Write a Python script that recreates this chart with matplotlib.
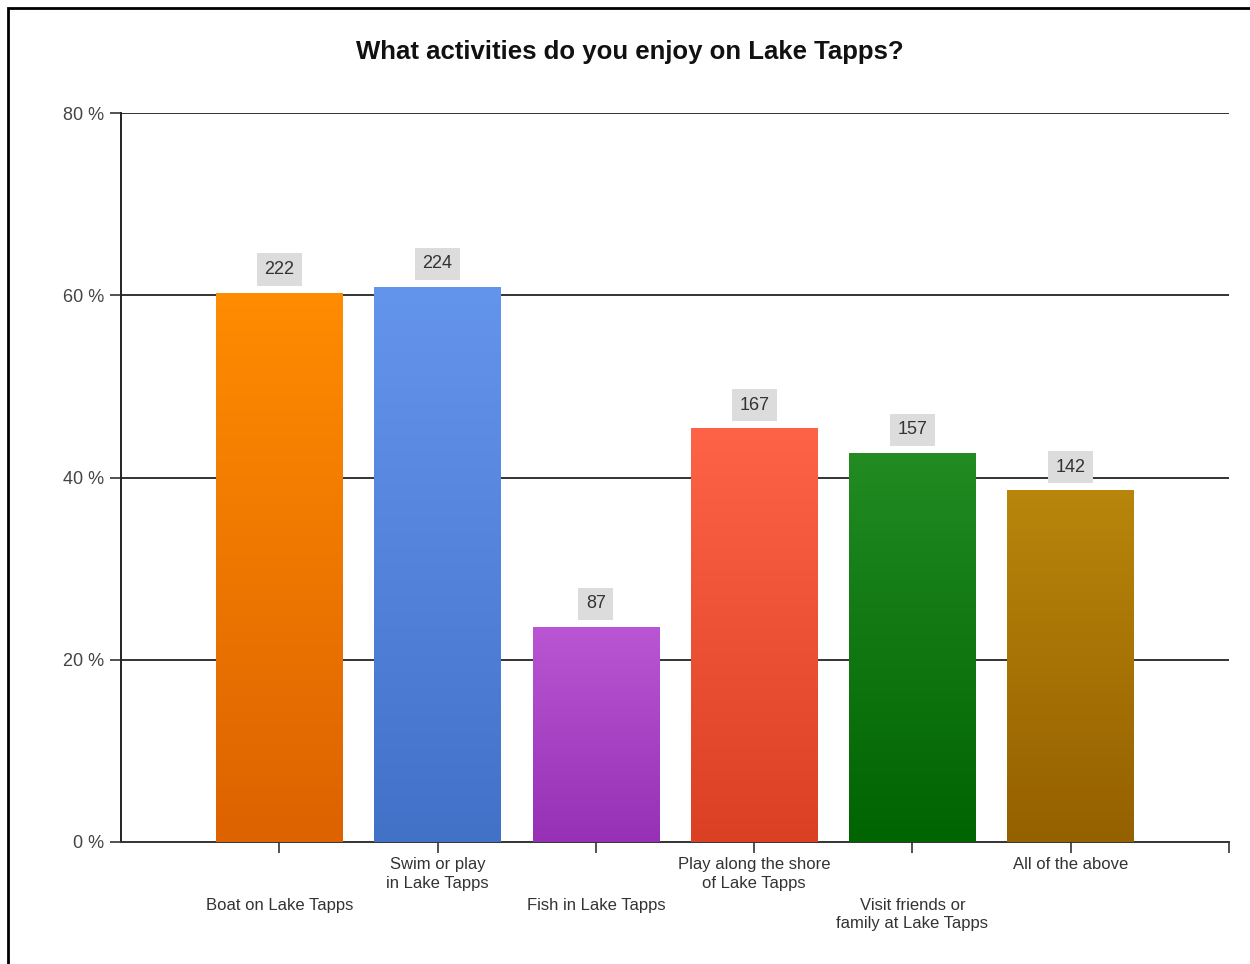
import numpy as np
import matplotlib.pyplot as plt
from matplotlib.patches import Rectangle
from matplotlib.colors import LinearSegmentedColormap

# survey answers, counts shown on bars, share of respondents (%)
categories = ['Boat on Lake Tapps', 'Swim or play\nin Lake Tapps', 'Fish in Lake Tapps',
              'Play along the shore\nof Lake Tapps', 'Visit friends or\nfamily at Lake Tapps',
              'All of the above']
counts = [222, 224, 87, 167, 157, 142]
percent = [60.3, 60.9, 23.6, 45.4, 42.7, 38.6]
# row 0 = just below ticks, row 1 = staggered lower
label_row = [1, 0, 1, 0, 1, 0]
top_colors = ['#FF8C00', '#6495ED', '#BA55D3', '#FF6347', '#228B22', '#B8860B']
bottom_colors = ['#DD6200', '#4271C8', '#9631B6', '#DB3F24', '#006400', '#956000']
yticks = [0, 20, 40, 60, 80]

plt.rcParams['font.family'] = ['Liberation Sans', 'DejaVu Sans']

fig = plt.figure(figsize=(12.5, 9.64), dpi=100)
ax = fig.add_axes([121/1250, 1 - 842/964, (1229 - 121)/1250, (842 - 113)/964])

x = np.arange(1, len(categories) + 1)
bars = ax.bar(x, percent, width=0.8, color='none', edgecolor='none', zorder=3)

# vertical gradient for every bar, clipped to its patch
grad = np.linspace(0, 1, 256).reshape(-1, 1)
for b, c_top, c_bot in zip(bars, top_colors, bottom_colors):
    cmap = LinearSegmentedColormap.from_list('g', [c_bot, c_top])
    x0, w, h = b.get_x(), b.get_width(), b.get_height()
    im = ax.imshow(grad, cmap=cmap, aspect='auto', origin='lower',
                   extent=[x0, x0 + w, 0, h], zorder=3)
    im.set_clip_path(b)

# count labels in grey boxes
for xi, p, n in zip(x, percent, counts):
    ax.annotate(str(n), xy=(xi, p), xytext=(0, 10.5), textcoords='offset points',
                ha='center', va='bottom', fontsize=13, color='#333333',
                bbox=dict(boxstyle='square,pad=0.42', fc='#dcdcdc', ec='none'), zorder=5)

ax.set_xlim(0, 7)
ax.set_ylim(0, 80)
ax.set_yticks(yticks)
ax.set_yticklabels([f'{v} %' for v in yticks], fontsize=13, color='#444444')
ax.set_xticks(list(x) + [7])
ax.set_xticklabels([])
ax.tick_params(axis='x', length=8, width=1.2, color='#333333', direction='out')
ax.tick_params(axis='y', length=8, width=1.2, color='#333333', pad=4)

for yv in yticks[1:]:
    ax.axhline(yv, color='#333333', lw=1.4, zorder=1)

for s in ['top', 'right']:
    ax.spines[s].set_visible(False)
ax.spines['left'].set_color('#222222')
ax.spines['left'].set_linewidth(1.4)
ax.spines['bottom'].set_color('#333333')
ax.spines['bottom'].set_linewidth(1.4)

# staggered category labels
for xi, lab, row in zip(x, categories, label_row):
    ax.annotate(lab, xy=(xi, 0), xycoords=('data', 'axes fraction'),
                xytext=(0, -11 - 29 * row), textcoords='offset points',
                ha='center', va='top', fontsize=12, color='#333333',
                linespacing=1.3)

fig.text(630/1250, 1 - 52/964, 'What activities do you enjoy on Lake Tapps?',
         ha='center', va='center', fontsize=18.5, fontweight='bold', color='#111111')

# outer frame
fig.patches.append(Rectangle((8/1250, -0.05), 1.2, 1.05 - 8/964, transform=fig.transFigure,
                             fill=False, ec='black', lw=2, zorder=0))

fig.savefig('out.png', dpi=100)
